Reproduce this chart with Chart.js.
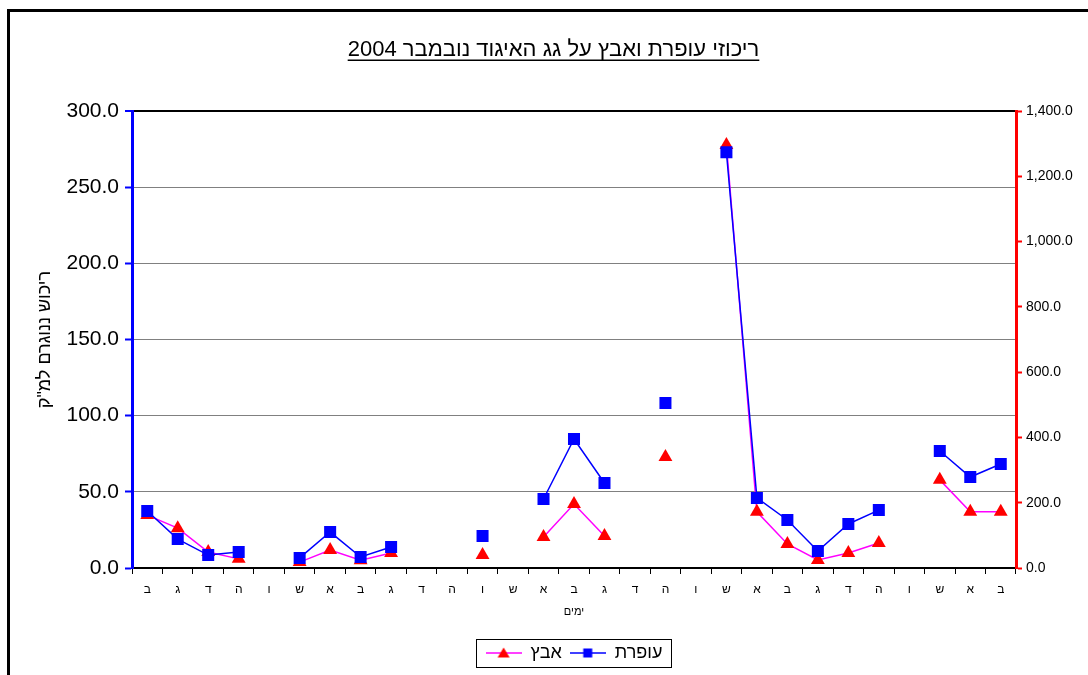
<!DOCTYPE html>
<html lang="he">
<head>
    <meta charset="UTF-8">
    <title>ריכוזי עופרת ואבץ</title>
    <script src="https://cdn.jsdelivr.net/npm/chart.js"></script>
    <style>
        html, body { margin: 0; padding: 0; background: #fff; overflow: hidden; }
        .frame {
            position: absolute;
            left: 7px;
            top: 9px;
            width: 1090px;
            height: 670px;
            border-left: 3px solid #000;
            border-top: 3px solid #000;
        }
        .frame canvas { display: block; }
    </style>
</head>
<body>
    <div class="frame">
        <canvas id="chart" dir="rtl" width="1087" height="663"></canvas>
    </div>

    <script>
        // days of the month (hebrew weekday letters)
        const days = ['ב','ג','ד','ה','ו','ש','א','ב','ג','ד','ה','ו','ש','א','ב','ג','ד','ה','ו','ש','א','ב','ג','ד','ה','ו','ש','א','ב'];

        // lead - left axis
        const lead = [37.4, 19.0, 8.5, 10.5, null, 6.6, 23.6, 7.2, 13.8, null, null, 21.0, null, 45.3, 84.7, 55.8, null, 108.3, null, 272.9, 46.0, 31.5, 11.2, 28.9, 38.0, null, 76.8, 59.7, 68.3];

        // zinc - right axis
        const zinc = [162, 122, 49, 28, null, 18, 55, 24, 46, null, null, 40, null, 95, 196, 98, null, 340, null, 1296, 172, 73.5, 24.5, 46, 76.6, null, 270, 172, 172];

        const leftTicks = [0, 50, 100, 150, 200, 250, 300];
        const rightTicks = [0, 200, 400, 600, 800, 1000, 1200, 1400];

        const FONT = "'Liberation Sans', Arial, sans-serif";
        const TITLE = 'ריכוזי עופרת ואבץ על גג האיגוד נובמבר 2004';
        const TITLE_SIZE = 22;

        // little line+marker pictures for the legend
        function legendSymbol(lineColor, markerColor, shape) {
            const c = document.createElement('canvas');
            c.width = 36;
            c.height = 14;
            const g = c.getContext('2d');
            g.strokeStyle = lineColor;
            g.lineWidth = 1.5;
            g.beginPath();
            g.moveTo(0, 7);
            g.lineTo(36, 7);
            g.stroke();
            g.fillStyle = markerColor;
            if (shape === 'rect') {
                g.fillRect(13.5, 2.5, 9, 9);
            } else {
                g.beginPath();
                g.moveTo(18, 1.5);
                g.lineTo(24, 11.5);
                g.lineTo(12, 11.5);
                g.closePath();
                g.fill();
            }
            return c;
        }

        const symbols = [
            legendSymbol('#0000ff', '#0000ff', 'rect'),
            legendSymbol('#ff00ff', '#ff0000', 'triangle')
        ];

        // underline the title and box the legend
        const decorations = {
            id: 'decorations',
            afterDraw(chart) {
                const ctx = chart.ctx;
                const t = chart.titleBlock;
                ctx.save();
                ctx.font = TITLE_SIZE + 'px ' + FONT;
                const w = ctx.measureText(TITLE).width;
                const cx = (t.left + t.right) / 2;
                const y = t.top + t.options.padding.top + TITLE_SIZE * 0.6 + 10;
                ctx.strokeStyle = '#000';
                ctx.lineWidth = 1.5;
                ctx.beginPath();
                ctx.moveTo(cx - w / 2, y);
                ctx.lineTo(cx + w / 2, y);
                ctx.stroke();

                const boxes = chart.legend.legendHitBoxes;
                if (boxes.length) {
                    const l = Math.min(...boxes.map(b => b.left));
                    const r = Math.max(...boxes.map(b => b.left + b.width));
                    const cy = boxes[0].top + boxes[0].height / 2;
                    ctx.lineWidth = 1;
                    ctx.strokeRect(Math.round(l - 10) + 0.5, Math.round(cy - 14) + 0.5, Math.round(r - l + 18), 28);
                }
                ctx.restore();
            }
        };

        new Chart(document.getElementById('chart'), {
            type: 'line',
            data: {
                labels: days,
                datasets: [{
                    label: 'עופרת',
                    data: lead,
                    yAxisID: 'y',
                    borderColor: '#0000ff',
                    backgroundColor: '#0000ff',
                    borderWidth: 1.5,
                    pointStyle: 'rect',
                    pointRadius: 8.5,
                    pointHoverRadius: 8.5,
                    pointBorderWidth: 0,
                    spanGaps: false,
                    tension: 0
                }, {
                    label: 'אבץ',
                    data: zinc,
                    yAxisID: 'y1',
                    borderColor: '#ff00ff',
                    backgroundColor: '#ff0000',
                    borderWidth: 1.5,
                    pointStyle: 'triangle',
                    pointRadius: 8,
                    pointHoverRadius: 8,
                    pointBorderWidth: 0,
                    spanGaps: false,
                    tension: 0
                }]
            },
            options: {
                responsive: false,
                animation: false,
                layout: { padding: { left: 0, right: 0, top: 0, bottom: 3 } },
                plugins: {
                    title: {
                        display: true,
                        text: TITLE,
                        color: '#000',
                        font: { family: FONT, size: TITLE_SIZE, weight: 'normal' },
                        padding: { top: 25, bottom: 47.6 }
                    },
                    legend: {
                        position: 'bottom',
                        fullSize: false,
                        reverse: true,
                        labels: {
                            color: '#000',
                            font: { family: FONT, size: 18 },
                            usePointStyle: true,
                            pointStyleWidth: 36,
                            padding: 8,
                            generateLabels(chart) {
                                const items = Chart.defaults.plugins.legend.labels.generateLabels(chart);
                                items.forEach(it => { it.pointStyle = symbols[it.datasetIndex]; });
                                return items;
                            }
                        }
                    },
                    tooltip: { enabled: false }
                },
                scales: {
                    x: {
                        offset: true,
                        border: { color: '#000', width: 2 },
                        grid: {
                            drawOnChartArea: false,
                            offset: true,
                            tickLength: 6,
                            tickColor: '#000',
                            tickWidth: 1
                        },
                        ticks: {
                            color: '#000',
                            font: { family: FONT, size: 12 },
                            padding: 8,
                            maxRotation: 0,
                            autoSkip: false
                        },
                        title: {
                            display: true,
                            text: 'ימים',
                            color: '#000',
                            font: { family: FONT, size: 11 },
                            padding: { top: 0, bottom: 17 }
                        },
                        afterFit(scale) { scale.height = 68; }
                    },
                    y: {
                        position: 'left',
                        min: 0,
                        max: 300,
                        afterBuildTicks(scale) { scale.ticks = leftTicks.map(v => ({ value: v })); },
                        border: { color: '#0000ff', width: 3 },
                        grid: {
                            color: ctx => ctx.tick && ctx.tick.value === 300 ? '#000' : '#808080',
                            lineWidth: ctx => ctx.tick && ctx.tick.value === 300 ? 2 : 1,
                            tickColor: '#0000ff',
                            tickWidth: 2,
                            tickLength: 7
                        },
                        ticks: {
                            color: '#000',
                            font: { family: FONT, size: 21 },
                            padding: 6,
                            callback: v => Number(v).toFixed(1)
                        },
                        title: {
                            display: true,
                            text: 'ריכוש ננוגרם למ"ק',
                            color: '#000',
                            font: { family: FONT, size: 18 },
                            padding: { top: 24, bottom: 0 }
                        },
                        afterFit(scale) { scale.width = 122; }
                    },
                    y1: {
                        position: 'right',
                        min: 0,
                        max: 1400,
                        afterBuildTicks(scale) { scale.ticks = rightTicks.map(v => ({ value: v })); },
                        border: { color: '#ff0000', width: 3 },
                        grid: {
                            drawOnChartArea: false,
                            tickColor: '#ff0000',
                            tickWidth: 2,
                            tickLength: 6
                        },
                        ticks: {
                            color: '#000',
                            font: { family: FONT, size: 14 },
                            padding: 4,
                            callback: v => Number(v).toLocaleString('en-US', { minimumFractionDigits: 1, maximumFractionDigits: 1 })
                        },
                        afterFit(scale) { scale.width = 81; }
                    }
                }
            },
            plugins: [decorations]
        });
    </script>
</body>
</html>
